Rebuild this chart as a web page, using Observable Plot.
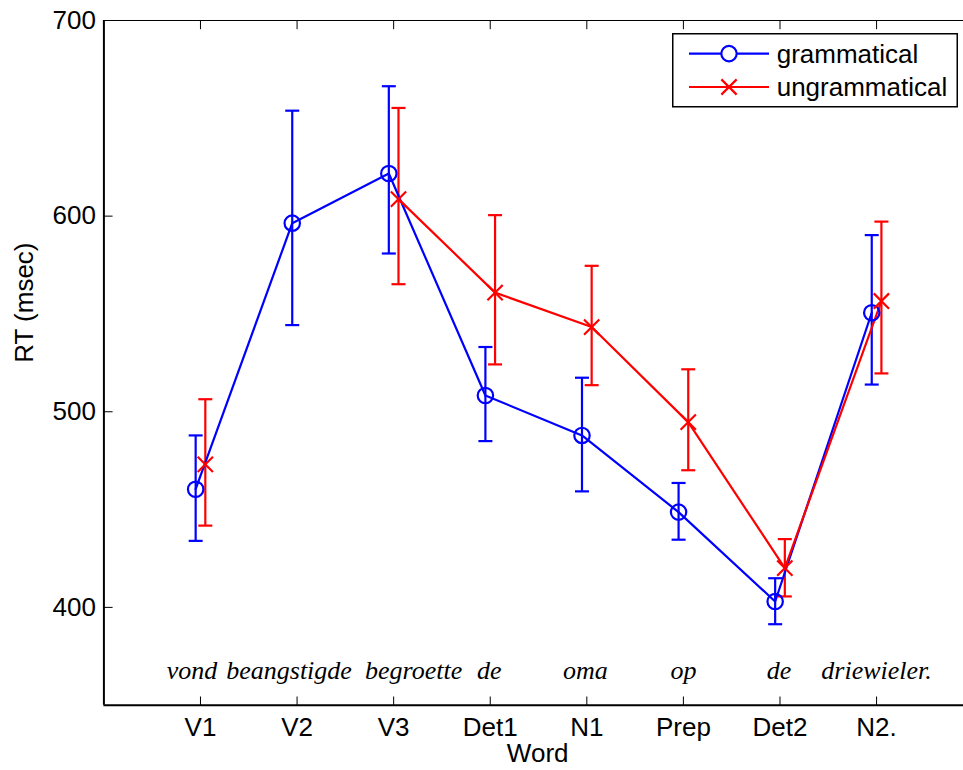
<!DOCTYPE html>
<html><head><meta charset="utf-8">
<script src="https://cdn.jsdelivr.net/npm/d3@7"></script>
<script src="https://cdn.jsdelivr.net/npm/@observablehq/plot@0.6"></script>
<style>
body{margin:0;background:#fff;}
#wrap{position:relative;width:963px;height:770px;font-family:"Liberation Sans",Arial,sans-serif;color:#000;}
#legend{position:absolute;left:672px;top:33px;}
</style></head><body><div id="wrap"></div>
<script>
// ---- data ----
const positions = ["V1","V2","V3","Det1","N1","Prep","Det2","N2."];
const words = ["vond","beangstigde","begroette","de","oma","op","de","driewieler."];
const gramMean = [460.4, 596.4, 621.8, 508.3, 487.9, 448.7, 403.0, 550.6];
const gramLow  = [434.0, 544.3, 580.9, 485.0, 459.3, 434.6, 391.4, 513.9];
const gramHigh = [487.9, 653.9, 666.4, 533.1, 517.4, 463.6, 414.9, 590.3];
const ungramMean = [473.1, null, 608.7, 560.9, 543.3, 494.7, 420.1, 556.6];
const ungramLow  = [441.8, null, 565.2, 524.2, 513.6, 470.1, 405.6, 519.6];
const ungramHigh = [506.4, null, 655.3, 600.5, 574.6, 521.7, 434.9, 597.2];
const yTicks = [400, 500, 600, 700];
const seriesNames = ["grammatical", "ungrammatical"];

// ---- layout ----
const W = 963, H = 770;
const mL = 103.4, mR = 0, mT = 20, mB = 65.3;
const xDomain = [0, 8.9], yDomain = [350, 700];
const pxPerX = (W - mL - mR) / (xDomain[1] - xDomain[0]);
const pxPerY = (H - mT - mB) / (yDomain[1] - yDomain[0]);
const blue = "#0000ff", red = "#ff0000";
const sOff = 0.05;               // horizontal dodge of the two series
const capHalf = 7 / pxPerX;      // error-bar cap half width
const tickLenX = 8.7 / pxPerX, tickLenY = 8.7 / pxPerY;
const wordNudgePx = [-8.5, -8, 20, -1, -1.4, 0, -1, 0];
const xTicks = positions.map((_, i) => i + 1);
const sw = 2.2;

const gram = positions.map((p, i) => ({i: i + 1, x: i + 1 - sOff, m: gramMean[i], lo: gramLow[i], hi: gramHigh[i]}));
const ungram = positions.map((p, i) => ({i: i + 1, x: i + 1 + sOff, m: ungramMean[i], lo: ungramLow[i], hi: ungramHigh[i]}));
const ungramDef = ungram.filter(d => d.m != null);
const wordRows = words.map((w, i) => ({x: i + 1 + wordNudgePx[i] / pxPerX, w}));

function errMarks(data, color) {
  return [
    Plot.ruleX(data, {x: "x", y1: "lo", y2: "hi", stroke: color, strokeWidth: sw}),
    Plot.link(data, {x1: d => d.x - capHalf, x2: d => d.x + capHalf, y1: "lo", y2: "lo", stroke: color, strokeWidth: sw}),
    Plot.link(data, {x1: d => d.x - capHalf, x2: d => d.x + capHalf, y1: "hi", y2: "hi", stroke: color, strokeWidth: sw})
  ];
}

const chart = Plot.plot({
  width: W, height: H,
  marginLeft: mL, marginRight: mR, marginTop: mT, marginBottom: mB,
  style: {fontFamily: '"Liberation Sans", Arial, sans-serif', fontSize: "26px", color: "#000", background: "#fff", overflow: "visible"},
  x: {domain: xDomain, axis: null},
  y: {domain: yDomain, axis: null},
  marks: [
    // frame
    Plot.ruleY([yDomain[1]], {stroke: "#000", strokeWidth: 1}),
    Plot.ruleY([yDomain[0]], {stroke: "#000", strokeWidth: 2}),
    Plot.ruleX([xDomain[0]], {stroke: "#000", strokeWidth: 2}),
    // inward ticks
    Plot.link(yTicks, {x1: xDomain[0], x2: xDomain[0] + tickLenX, y1: d => d, y2: d => d, stroke: "#000", strokeWidth: 1}),
    Plot.link(xTicks, {x1: d => d, x2: d => d, y1: yDomain[0], y2: yDomain[0] + tickLenY, stroke: "#000", strokeWidth: 1}),
    Plot.link(xTicks, {x1: d => d, x2: d => d, y1: yDomain[1], y2: yDomain[1] - tickLenY, stroke: "#000", strokeWidth: 1}),
    // axes labels
    Plot.axisY({ticks: yTicks, tickSize: 0, tickPadding: 8, label: null, fontSize: 26}),
    Plot.axisX({ticks: xTicks, tickSize: 0, tickPadding: 12, tickFormat: d => positions[d - 1], label: null, fontSize: 26}),
    Plot.text(["RT (msec)"], {frameAnchor: "left", rotate: -90, dx: -79, text: d => d, fontSize: 26}),
    Plot.text(["Word"], {frameAnchor: "bottom", dx: 4, dy: 57, text: d => d, fontSize: 26}),
    // sentence words
    Plot.text(wordRows, {x: "x", y: 367.8, text: "w", fontFamily: '"Liberation Serif", "Times New Roman", serif', fontStyle: "italic", fontSize: 26}),
    // series
    ...errMarks(gram, blue),
    ...errMarks(ungramDef, red),
    Plot.line(gram, {x: "x", y: "m", stroke: blue, strokeWidth: sw}),
    Plot.line(ungram, {x: "x", y: "m", stroke: red, strokeWidth: sw}),
    Plot.dot(gram, {x: "x", y: "m", r: 7.7, stroke: blue, strokeWidth: sw, fill: "none"}),
    Plot.dot(ungramDef, {x: "x", y: "m", r: 7, symbol: "times", stroke: red, strokeWidth: sw})
  ]
});
const wrap = document.getElementById("wrap");
wrap.appendChild(chart);

// legend
const lg = d3.select(wrap).append("svg").attr("id", "legend").attr("width", 286).attr("height", 75);
lg.append("rect").attr("x", 0.75).attr("y", 0.75).attr("width", 284.5).attr("height", 73).attr("fill", "#fff").attr("stroke", "#000").attr("stroke-width", 1.5);
const rows = [{name: seriesNames[0], c: blue, sym: "circle", y: 20.6}, {name: seriesNames[1], c: red, sym: "times", y: 54}];
rows.forEach(r => {
  lg.append("line").attr("x1", 17).attr("x2", 97).attr("y1", r.y).attr("y2", r.y).attr("stroke", r.c).attr("stroke-width", sw);
  if (r.sym === "circle") {
    lg.append("circle").attr("cx", 57).attr("cy", r.y).attr("r", 7.7).attr("fill", "#fff").attr("stroke", r.c).attr("stroke-width", sw);
  } else {
    lg.append("path").attr("transform", `translate(57,${r.y})`).attr("d", d3.symbol(d3.symbolTimes, 7 * 7 * Math.PI)()).attr("fill", "none").attr("stroke", r.c).attr("stroke-width", sw);
  }
  lg.append("text").attr("x", 104.7).attr("y", r.y).attr("dy", "0.35em").attr("font-size", 26).attr("font-family", '"Liberation Sans", Arial, sans-serif').text(r.name);
});
</script></body></html>
